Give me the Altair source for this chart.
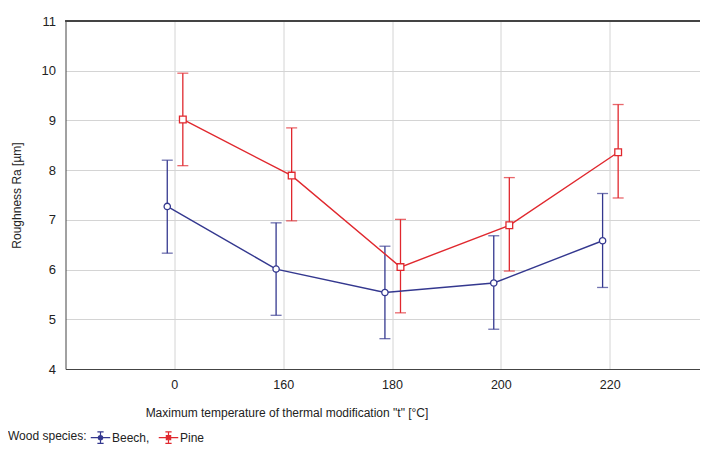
import altair as alt
import pandas as pd

# ---- data ----
temps = ["0", "160", "180", "200", "220"]
beech_mean = [7.27, 6.01, 5.54, 5.73, 6.58]
beech_low = [6.33, 5.08, 4.61, 4.80, 5.64]
beech_high = [8.20, 6.94, 6.47, 6.68, 7.53]
pine_mean = [9.02, 7.89, 6.05, 6.89, 8.36]
pine_low = [8.09, 6.98, 5.13, 5.97, 7.44]
pine_high = [9.95, 8.85, 7.01, 7.85, 9.32]
species = ["Beech", "Pine"]
colors = ["#34388f", "#e0282e"]

rows = []
for sp, m, lo, hi in [("Beech", beech_mean, beech_low, beech_high),
                      ("Pine", pine_mean, pine_low, pine_high)]:
    for i, t in enumerate(temps):
        rows.append({"species": sp, "temp": t, "idx": i + 1,
                     "mean": m[i], "low": lo[i], "high": hi[i]})
df = pd.DataFrame(rows)

FONT = "Liberation Sans Narrow, Arial Narrow, Liberation Sans, Arial, sans-serif"
label_expr = "[''," + ",".join("'%s'" % t for t in temps) + "][datum.value] || ''"

path_b = ("M-1,0H-0.22M0.22,0H1M0,-0.6V-0.22M0,0.22V0.6M-0.32,-0.6H0.32M-0.32,0.6H0.32"
          "M0.22,0A0.22,0.22 0 1,1 -0.22,0A0.22,0.22 0 1,1 0.22,0")
path_p = ("M-1,0H-0.22M0.22,0H1M0,-0.6V-0.22M0,0.22V0.6M-0.32,-0.6H0.32M-0.32,0.6H0.32"
          "M-0.22,-0.22H0.22V0.22H-0.22Z")

leg = alt.Legend(
    title="Wood species:", orient="none", legendX=-57.5, legendY=406,
    direction="horizontal", titleOrient="left", titlePadding=3,
    titleFont=FONT, titleFontSize=12, titleFontWeight="normal",
    titleColor="#222222", labelFont=FONT, labelFontSize=12,
    labelColor="#222222", symbolSize=380, symbolStrokeWidth=1.2,
    symbolFillColor="white", symbolOpacity=1,
    labelOffset=1, columnPadding=6,
    labelExpr="datum.label == 'Beech' ? 'Beech,' : datum.label",
    symbolType={"expr": "datum.value == 'Beech' ? '%s' : '%s'" % (path_b, path_p)},
)

color = alt.Color("species:N", scale=alt.Scale(domain=species, range=colors), legend=leg)

x = alt.X("xpos:Q",
          scale=alt.Scale(domain=[0, 5.83], nice=False, zero=False),
          axis=alt.Axis(values=[1, 2, 3, 4, 5], labelExpr=label_expr,
                        title='Maximum temperature of thermal modification "t" [°C]',
                        titleX=221, titleY=43, titleAnchor="start", titleAlign="center",
                        titleBaseline="middle",
                        grid=True, gridColor="#d4d4d4", ticks=False, labelPadding=9,
                        domain=True, domainColor="#444444", labelFlush=False))
y_axis = alt.Axis(values=[4, 5, 6, 7, 8, 9, 10, 11], title="Roughness Ra [µm]",
                  grid=True, gridColor="#d4d4d4", ticks=False, labelPadding=10,
                  domain=True, domainColor="#444444", titlePadding=18,
                  labelFontSize=13)
yscale = alt.Scale(domain=[4, 11], nice=False, zero=False)

base = alt.Chart(df).transform_calculate(
    xpos="datum.idx + (datum.species == 'Beech' ? -0.065 : 0.078)"
)

bars = base.mark_rule(strokeWidth=1.3).encode(
    x=x, y=alt.Y("low:Q", scale=yscale, axis=y_axis), y2="high:Q", color=color)
caps_lo = base.mark_tick(orient="horizontal", size=11, thickness=1.3).encode(
    x="xpos:Q", y="low:Q", color=color)
caps_hi = base.mark_tick(orient="horizontal", size=11, thickness=1.3).encode(
    x="xpos:Q", y="high:Q", color=color)
line = base.mark_line(strokeWidth=1.4).encode(
    x="xpos:Q", y="mean:Q", color=color, detail="species:N")
points = base.transform_calculate(
    shp="datum.species == 'Beech' ? 'circle' : 'square'"
).mark_point(filled=False, fill="white", strokeWidth=1.3, opacity=1).encode(
    x="xpos:Q", y="mean:Q", color=color,
    shape=alt.Shape("shp:N", scale=None),
    size=alt.condition("datum.species == 'Beech'", alt.value(40), alt.value(45)))

top_border = alt.Chart(df).mark_rule(color="#444444", strokeWidth=1).encode(y=alt.datum(11))

chart = alt.layer(bars, caps_lo, caps_hi, line, points, top_border).properties(
    width=634.5, height=348,
    autosize=alt.AutoSizeParams(type="none"),
    padding={"left": 57.5, "top": 13, "right": 0, "bottom": 80},
    background="white",
).configure_view(stroke=None).configure_axis(
    labelFont=FONT, titleFont=FONT, labelFontSize=12.5, titleFontSize=12,
    titleFontWeight="normal", labelColor="#222222", titleColor="#222222"
)

chart.save("out.html", embed_options={"renderer": "svg", "actions": False})
